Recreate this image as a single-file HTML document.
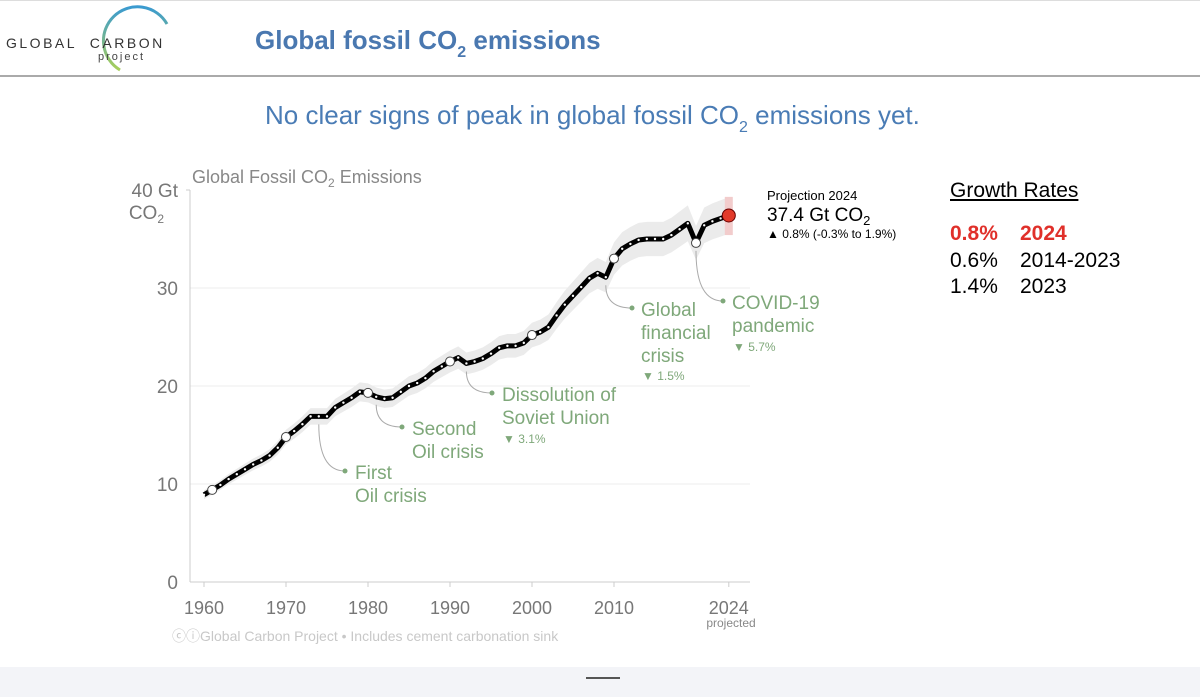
<!DOCTYPE html>
<html><head><meta charset="utf-8"><style>
body{margin:0;width:1200px;height:697px;overflow:hidden;background:#fff;font-family:"Liberation Sans",sans-serif;position:relative}
.abs{position:absolute;white-space:nowrap}
</style></head><body>
<div class="abs" style="left:0;top:0;width:1200px;height:74px;border-top:1px solid #ddd;border-bottom:2px solid #aaa"></div>
<svg class="abs" style="left:75px;top:2px" width="100" height="72"><defs><linearGradient id="lg" x1="0" y1="0" x2="0" y2="1"><stop offset="0" stop-color="#3a9ad0"/><stop offset="1" stop-color="#a8cf5a"/></linearGradient></defs><path d="M92 22 A34 34 0 1 0 45 68" fill="none" stroke="url(#lg)" stroke-width="3"/></svg>
<div class="abs" style="left:6px;top:35px;font-size:14px;letter-spacing:2.5px;color:#333">GLOBAL&nbsp;&nbsp;CARBON</div>
<div class="abs" style="left:98px;top:51px;font-size:11px;letter-spacing:2px;color:#444">project</div>
<div class="abs" style="left:255px;top:25px;font-size:26px;font-weight:bold;color:#4a78b0">Global fossil CO<sub style="font-size:16px;vertical-align:-8px">2</sub> emissions</div>
<div class="abs" style="left:265px;top:100px;font-size:26px;color:#4a7cb5">No clear signs of peak in global fossil CO<sub style="font-size:16px;vertical-align:-8px">2</sub> emissions yet.</div>
<div class="abs" style="left:950px;top:179px;font-size:21px;text-decoration:underline">Growth Rates</div>
<div class="abs" style="left:950px;top:222px;font-size:21px;color:#e0302a;font-weight:bold">0.8%<span style="position:absolute;left:70px">2024</span></div>
<div class="abs" style="left:950px;top:249px;font-size:21px">0.6%<span style="position:absolute;left:70px">2014-2023</span></div>
<div class="abs" style="left:950px;top:275px;font-size:21px">1.4%<span style="position:absolute;left:70px">2023</span></div>
<div class="abs" style="left:0;top:667px;width:1200px;height:30px;background:#f3f4f8"></div>
<div class="abs" style="left:586px;top:677px;width:34px;height:2px;background:#555"></div>
<svg id="chart" class="abs" style="left:0;top:0" width="1200" height="697" font-family="Liberation Sans, sans-serif"></svg>
<script>
const years=[];for(let y=1960;y<=2024;y++)years.push(y);
const values=[8.9,9.4,9.9,10.5,11.0,11.5,12.0,12.4,12.9,13.7,14.8,15.4,16.1,16.9,16.9,16.9,17.8,18.3,18.8,19.4,19.3,18.9,18.7,18.8,19.4,20.0,20.3,20.8,21.5,22.0,22.5,22.9,22.3,22.5,22.8,23.3,23.9,24.1,24.1,24.4,25.2,25.5,26.0,27.2,28.3,29.2,30.1,31.0,31.5,31.1,33.0,34.0,34.5,34.9,35.0,35.0,35.0,35.4,36.0,36.6,34.6,36.4,36.8,37.1,37.4];
const yTicks=[0,10,20,30];
const xTicks=[1960,1970,1980,1990,2000,2010,2024];
const circleYears=[1961,1970,1980,1990,2000,2010,2020];
const NS='http://www.w3.org/2000/svg';const svg=document.getElementById('chart');
const X=y=>204+8.2*(y-1960), Y=v=>582-9.8*v;
function mk(t,a,p){const e=document.createElementNS(NS,t);for(const k in a)e.setAttribute(k,a[k]);(p||svg).appendChild(e);return e;}
// gridlines
yTicks.forEach(t=>{const g=mk('line',{x1:190,x2:750,y1:Y(t),y2:Y(t),stroke:t?'#eee':'#ccc'});


const l=mk('text',{x:178,y:Y(t)+7,'text-anchor':'end','font-size':19,fill:'#777'});l.textContent=t;

});
mk('line',{x1:190,x2:190,y1:190,y2:582,stroke:'#ccc'});
mk('line',{x1:186,x2:190,y1:190,y2:190,stroke:'#ccc'});
xTicks.forEach(t=>{mk('line',{x1:X(t),x2:X(t),y1:582,y2:587,stroke:'#ccc'});
const l=mk('text',{x:X(t),y:614,'text-anchor':'middle','font-size':18,fill:'#777'});l.textContent=t;

});
// band
let up=years.map((y,i)=>X(y)+','+Y(values[i]*1.05)),dn=years.map((y,i)=>X(y)+','+Y(values[i]*0.95)).reverse();
const band=mk('polygon',{points:up.concat(dn).join(' '),fill:'#ebebeb'});


const last=values[values.length-1];
mk('rect',{x:X(2024)-4,y:Y(last+1.9),width:8,height:Y(last-2)-Y(last+1.9),fill:'#f2cccc'});
const pts=years.map((y,i)=>X(y)+','+Y(values[i])).join(' ');
const line=mk('polyline',{points:pts,fill:'none',stroke:'#000','stroke-width':5,'stroke-linejoin':'round'});


years.forEach((y,i)=>{if(i<years.length-1)mk('circle',{cx:X(y),cy:Y(values[i]),r:1.2,fill:'#fff'});});
circleYears.forEach(y=>{const c=mk('circle',{cx:X(y),cy:Y(values[y-1960]),r:4.5,fill:'#fff',stroke:'#444','stroke-width':1});

});
const red=mk('circle',{cx:X(2024),cy:Y(last),r:6.5,fill:'#e23a2a',stroke:'#600','stroke-width':1});


function txt(x,y,s,size,fill,name,anchor){const t=mk('text',{x:x,y:y,'font-size':size,fill:fill,'text-anchor':anchor||'start'});t.textContent=s;

return t;}
const G='#7fa87a';
function ann(yr,tx,ty){const x0=X(yr),y0=Y(values[yr-1960])+8;mk('path',{d:`M${x0} ${y0} Q${x0} ${ty} ${tx} ${ty}`,fill:'none',stroke:'#aaa'});mk('circle',{cx:tx,cy:ty,r:2.5,fill:G});}
ann(1974,345,471);txt(355,479,'First',19,G,'annotation-first-oil');txt(355,502,'Oil crisis',19,G,'annotation-first-oil');
ann(1981,402,427);txt(412,435,'Second',19,G,'annotation-second-oil');txt(412,458,'Oil crisis',19,G,'annotation-second-oil');
ann(1992,492,393);txt(502,401,'Dissolution of',19,G,'annotation-soviet');txt(502,424,'Soviet Union',19,G,'annotation-soviet');txt(503,443,'▼ 3.1%',12,G,'annotation-soviet-pct');
ann(2009,632,308);txt(641,316,'Global',19,G,'annotation-gfc');txt(641,339,'financial',19,G,'annotation-gfc');txt(641,362,'crisis',19,G,'annotation-gfc');txt(642,380,'▼ 1.5%',12,G,'annotation-gfc-pct');
ann(2020,723,301);txt(732,309,'COVID-19',19,G,'annotation-covid');txt(732,332,'pandemic',19,G,'annotation-covid');txt(733,351,'▼ 5.7%',12,G,'annotation-covid-pct');
const ct=txt(192,183,'Global Fossil CO',18,'#888','chart-title');const s=mk('tspan',{'font-size':12,dy:4},ct);s.textContent='2';const s2=mk('tspan',{dy:-4},ct);s2.textContent=' Emissions';
txt(178,197,'40 Gt',19,'#777','y-axis-unit','end');const cu=txt(164,219,'CO',19,'#777','y-axis-unit','end');const cs=mk('tspan',{'font-size':12,dy:4},cu);cs.textContent='2';
txt(731,627,'projected',12,'#888','projected-label','middle');
txt(172,641,'ⓒⓘGlobal Carbon Project  •  Includes cement carbonation sink',14,'#c8c8c8','source-note');
txt(767,200,'Projection 2024',13,'#000','projection-label');
const pv=txt(767,221,'37.4 Gt CO',19,'#000','projection-value');const ps=mk('tspan',{'font-size':13,dy:4},pv);ps.textContent='2';
txt(767,238,'▲ 0.8% (-0.3% to 1.9%)',12,'#000','projection-range');
</script>
</body></html>
